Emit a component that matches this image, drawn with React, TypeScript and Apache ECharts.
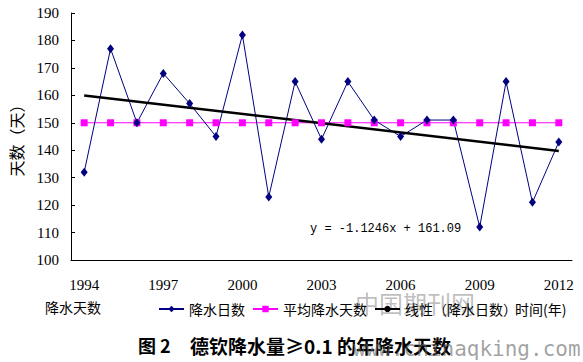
import React, { useEffect, useRef } from "react";
import * as echarts from "echarts";

const years = ["1994", "1995", "1996", "1997", "1998", "1999", "2000", "2001", "2002", "2003", "2004", "2005", "2006", "2007", "2008", "2009", "2010", "2011", "2012"];
const rainDays = [132, 177, 150, 168, 157, 145, 182, 123, 165, 144, 165, 151, 145, 151, 151, 112, 165, 121, 143];
const avgDays = [150, 150, 150, 150, 150, 150, 150, 150, 150, 150, 150, 150, 150, 150, 150, 150, 150, 150, 150];
// linear trend y = -1.1246x + 161.09, end points at x=1 and x=19
const trendStart = 159.97;
const trendEnd = 139.72;
const trendValues = years.map((_, i) => (i === 0 ? trendStart : i === years.length - 1 ? trendEnd : null));

const SERIF = "'Liberation Serif', 'Times New Roman', serif";
const CJK = "'Noto Sans CJK SC', sans-serif";

export default function App() {
  const ref = useRef<HTMLDivElement>(null);
  useEffect(() => {
    if (!ref.current) return;
    const chart = echarts.init(ref.current, null, { renderer: "svg" });
    chart.setOption({
      animation: false,
      backgroundColor: "#fff",
      grid: { left: 60, right: 11, top: 13, bottom: 102, containLabel: false },
      xAxis: {
        type: "category",
        data: years,
        boundaryGap: true,
        axisLine: { lineStyle: { color: "#000", width: 1 } },
        axisTick: { inside: true, length: 6, interval: 2, lineStyle: { color: "#000" } },
        axisLabel: { interval: 2, margin: 17, color: "#000", fontFamily: SERIF, fontSize: 15 },
        splitLine: { show: false },
      },
      yAxis: {
        type: "value",
        min: 100,
        max: 190,
        interval: 10,
        name: "天数（天）",
        nameLocation: "middle",
        nameRotate: 90,
        nameGap: 47,
        nameTextStyle: { color: "#000", fontFamily: CJK, fontSize: 16 },
        axisLine: { show: true, lineStyle: { color: "#000", width: 1 } },
        axisTick: { show: true, inside: true, length: 4, lineStyle: { color: "#000" } },
        axisLabel: { margin: 12, color: "#000", fontFamily: SERIF, fontSize: 15 },
        splitLine: { show: false },
      },
      legend: {
        left: 158,
        top: 302,
        padding: 0,
        itemGap: 7,
        itemWidth: 25,
        itemHeight: 8,
        textStyle: { color: "#000", fontFamily: CJK, fontSize: 14 },
        data: ["降水日数", "平均降水天数", "线性（降水日数）"],
      },
      series: [
        {
          name: "平均降水天数",
          type: "line",
          data: avgDays,
          symbol: "rect",
          symbolSize: 7,
          itemStyle: { color: "#FF00FF" },
          lineStyle: { color: "#FF00FF", width: 1 },
        },
        {
          name: "降水日数",
          type: "line",
          data: rainDays,
          symbol: "diamond",
          symbolSize: [7, 9],
          itemStyle: { color: "#000080" },
          lineStyle: { color: "#000080", width: 1 },
        },
        {
          name: "线性（降水日数）",
          type: "line",
          data: trendValues,
          connectNulls: true,
          symbol: "none",
          itemStyle: { color: "#000" },
          lineStyle: { color: "#000", width: 2.5 },
        },
      ],
      graphic: [
        {
          type: "text",
          left: 310,
          top: 223,
          style: { text: "y = -1.1246x + 161.09", fill: "#000", font: "12px 'Liberation Mono', monospace" },
        },
        {
          type: "text",
          left: 45,
          top: 300,
          style: { text: "降水天数", fill: "#000", font: `14px ${CJK}` },
        },
        {
          type: "text",
          left: 515,
          top: 302,
          style: { text: "时间(年)", fill: "#000", font: `14px ${CJK}` },
        },
        {
          type: "text",
          left: 138,
          top: 336,
          style: { text: "图 2", fill: "#000", font: `bold 18px ${CJK}` },
        },
        {
          type: "text",
          left: 190,
          top: 336,
          style: { text: "德钦降水量≥0.1 的年降水天数", fill: "#000", font: `bold 19px ${CJK}` },
        },
        {
          type: "text",
          left: 355,
          top: 290,
          style: { text: "中国期刊网", fill: "rgba(110,110,110,0.45)", font: `24px ${CJK}` },
        },
        {
          type: "text",
          left: 353,
          top: 338,
          style: { text: "www.chinaqking.com", fill: "rgba(100,100,100,0.6)", font: "21px 'DejaVu Sans Mono', monospace" },
        },
      ],
    });
    return () => chart.dispose();
  }, []);
  return <div ref={ref} style={{ position: "fixed", left: 0, top: 0, width: 583, height: 362 }} />;
}
